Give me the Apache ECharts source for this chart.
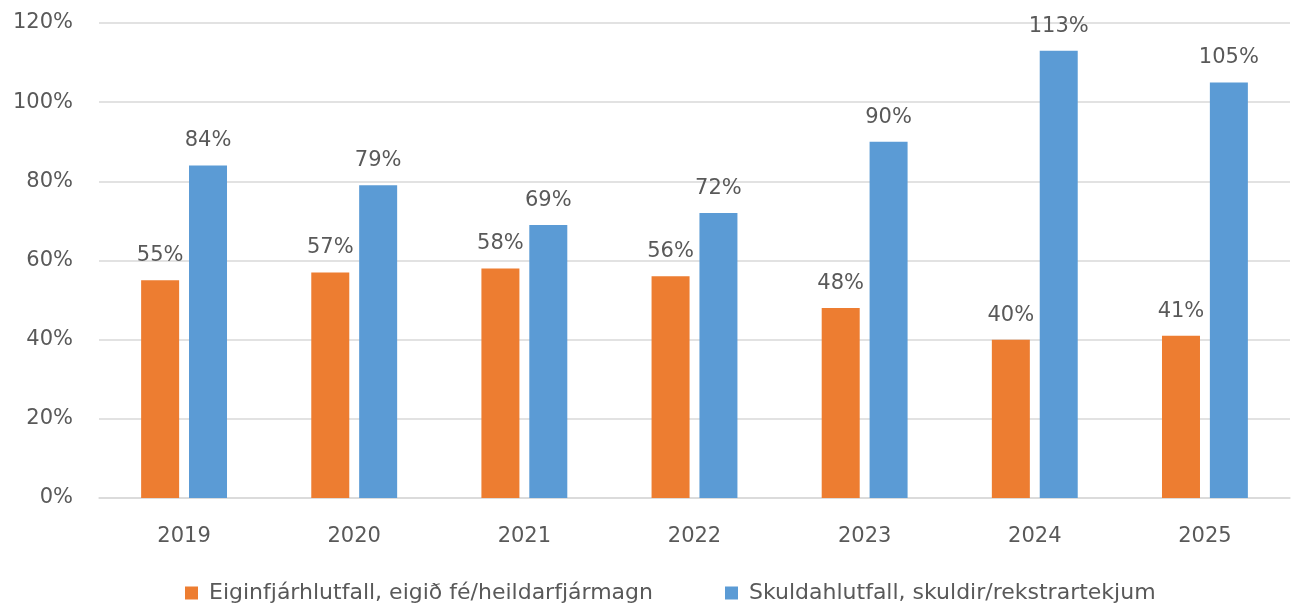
<!DOCTYPE html>
<html>
<head>
<meta charset="utf-8">
<script src="https://cdn.jsdelivr.net/npm/echarts@6/dist/echarts.min.js"></script>
<style>
  html, body { margin: 0; padding: 0; background: #fff; }
  #chart { width: 1292px; height: 604px; }
</style>
</head>
<body>
<div id="chart"></div>
<script>
const years = ['2019', '2020', '2021', '2022', '2023', '2024', '2025'];
const eiginfjarhlutfall = [55, 57, 58, 56, 48, 40, 41];
const skuldahlutfall = [84, 79, 69, 72, 90, 113, 105];
const seriesNames = ['Eiginfjárhlutfall, eigið fé/heildarfjármagn', 'Skuldahlutfall, skuldir/rekstrartekjum'];

const txt = '#595959';
const font = 'DejaVu Sans';

const chart = echarts.init(document.getElementById('chart'));
chart.setOption({
  animation: false,
  textStyle: { fontFamily: font },
  grid: { left: 99, right: 2, top: 23, bottom: 106, containLabel: false },
  legend: {
    top: 582,
    left: 180,
    padding: [0, 5],
    itemWidth: 13,
    itemHeight: 13,
    itemGap: 72,
    icon: 'rect',
    textStyle: { color: txt, fontSize: 22, fontFamily: font, padding: [0, 0, 0, 6] },
    data: seriesNames
  },
  xAxis: {
    type: 'category',
    data: years,
    axisLine: { lineStyle: { color: '#D9D9D9', width: 1.5 } },
    axisTick: { show: false },
    axisLabel: { color: txt, fontSize: 21, margin: 28 }
  },
  yAxis: {
    type: 'value',
    min: 0,
    max: 120,
    interval: 20,
    axisLine: { show: false },
    axisTick: { show: false },
    splitLine: { lineStyle: { color: '#D9D9D9', width: 1.5 } },
    axisLabel: { color: txt, fontSize: 21, margin: 26, formatter: v => v + '%' }
  },
  series: [
    {
      name: seriesNames[0],
      type: 'bar',
      data: eiginfjarhlutfall,
      barWidth: 38,
      barGap: '26%',
      itemStyle: { color: '#ED7D31' },
      label: { show: true, position: 'top', distance: 14, color: txt, fontSize: 21, formatter: p => p.value + '%' }
    },
    {
      name: seriesNames[1],
      type: 'bar',
      data: skuldahlutfall,
      barWidth: 38,
      itemStyle: { color: '#5B9BD5' },
      label: { show: true, position: 'top', distance: 14, color: txt, fontSize: 21, formatter: p => p.value + '%' }
    }
  ]
});
</script>
</body>
</html>
